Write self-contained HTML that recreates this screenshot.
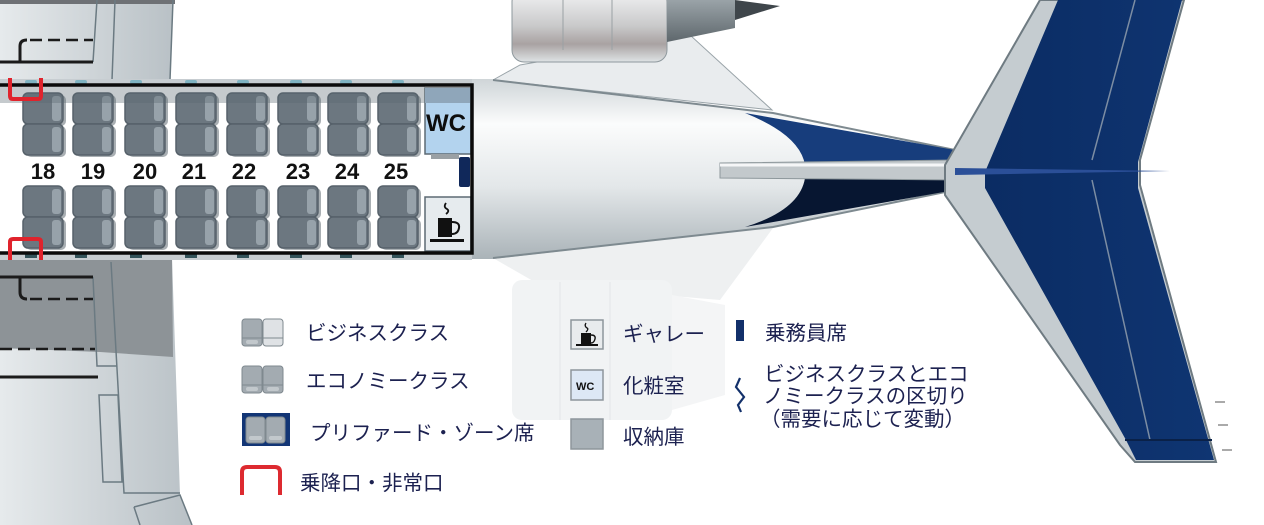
<!DOCTYPE html>
<html><head><meta charset="utf-8">
<style>
html,body{margin:0;padding:0;background:#fff;}
svg{display:block;}
text{font-family:"Liberation Sans","Noto Sans CJK JP",sans-serif;}
.lg{font-size:20.5px;fill:#1c2150;}
</style></head><body>
<svg width="1264" height="525" viewBox="0 0 1264 525" xmlns="http://www.w3.org/2000/svg">
<defs>
<linearGradient id="wing" x1="0" y1="0" x2="1" y2="0">
<stop offset="0" stop-color="#e6eaec"/><stop offset="1" stop-color="#b9c1c6"/></linearGradient>
<linearGradient id="fus" x1="0" y1="0" x2="0" y2="1">
<stop offset="0" stop-color="#cfd5d8"/><stop offset="0.25" stop-color="#fbfcfc"/><stop offset="0.6" stop-color="#e3e7e9"/><stop offset="1" stop-color="#aab3b8"/></linearGradient>
<linearGradient id="eng" x1="0" y1="0" x2="0" y2="1">
<stop offset="0" stop-color="#f3f4f5"/><stop offset="0.5" stop-color="#c9c9ca"/><stop offset="0.75" stop-color="#a9a2a2"/><stop offset="1" stop-color="#dfe3e5"/></linearGradient>
<linearGradient id="exh" x1="0" y1="0" x2="0" y2="1">
<stop offset="0" stop-color="#9aa3a8"/><stop offset="1" stop-color="#5e676c"/></linearGradient>
<linearGradient id="tail" x1="0" y1="0" x2="1" y2="0">
<stop offset="0" stop-color="#0b2c63"/><stop offset="1" stop-color="#0f3572"/></linearGradient>
<g id="seat">
<rect x="3" y="2" width="40" height="31" rx="5" fill="#a9afb3"/>
<rect x="0" y="0" width="40" height="31" rx="5" fill="#6c7780" stroke="#56616a" stroke-width="1.5"/>
<rect x="29" y="3" width="9" height="25" rx="3" fill="#97a2aa"/>
</g>
<g id="pair"><use href="#seat" y="0"/><use href="#seat" y="31"/></g>
</defs>

<!-- top wing -->
<path d="M0 0 H173 L170 80 H0 Z" fill="url(#wing)"/>
<rect x="0" y="0" width="175" height="4" fill="#6e7175"/>
<path d="M97 0 L93 62 M115 0 L112 80 M173 0 L170 80" stroke="#6b7a82" stroke-width="1.5" fill="none"/>
<path d="M0 62 H93" stroke="#1b1b1b" stroke-width="3"/>
<path d="M20 62 V46 Q20 40 27 40" stroke="#1b1b1b" stroke-width="3" fill="none"/>
<path d="M30 40 H93" stroke="#1b1b1b" stroke-width="2.5" stroke-dasharray="12 6"/>

<!-- bottom wing -->
<path d="M0 258 H172 L180 495 L192 525 H0 Z" fill="url(#wing)"/>
<path d="M0 258 H172 L173 357 L100 352 L0 348 Z" fill="#8d9397"/>
<path d="M93 277 L97 366 H117 M111 262 L124 493 H180 M99 395 H118 L122 482 H103 Z M134 507 L180 495 L192 525 M140 525 L134 507" stroke="#6b7a82" stroke-width="1.5" fill="none"/>
<path d="M0 277 H93" stroke="#1b1b1b" stroke-width="3"/>
<path d="M20 277 V292 Q20 299 27 299" stroke="#1b1b1b" stroke-width="3" fill="none"/>
<path d="M30 299 H93" stroke="#1b1b1b" stroke-width="2.5" stroke-dasharray="12 6"/>
<path d="M0 349 H95" stroke="#1b1b1b" stroke-width="2.5" stroke-dasharray="12 6"/>
<path d="M0 377 H98" stroke="#1b1b1b" stroke-width="3"/>

<!-- bottom engine (faded) -->
<path d="M493 258 L773 228 L720 300 L540 285 Z" fill="#eef0f1"/>
<rect x="512" y="280" width="160" height="140" rx="10" fill="#f1f3f4"/>
<path d="M672 295 L725 305 V395 L672 410 Z" fill="#f4f5f6"/>
<path d="M560 282 V420 M610 282 V420" stroke="#e2e5e7" stroke-width="1"/>

<!-- top pylon & engine -->
<path d="M493 80 L520 65 L690 35 L772 110 Z" fill="#e9ecee" stroke="#9aa4a9" stroke-width="1"/>
<rect x="512" y="-10" width="155" height="72" rx="12" fill="url(#eng)" stroke="#8e989d"/>
<path d="M563 0 V50 M612 0 V50" stroke="#9aa1a4" stroke-width="1"/>
<path d="M667 0 H735 V28 L667 42 Z" fill="url(#exh)"/>
<path d="M735 0 L780 6 L735 20 Z" fill="#3f464b"/>

<!-- fuselage cone -->
<path d="M440 79 H493 L773 113 L955 150 L955 190 L773 227 L493 259 H440 Z" fill="url(#fus)"/>
<path d="M493 80 L773 113 L955 150 M493 258 L773 227 L955 190" stroke="#7e8a90" stroke-width="2" fill="none"/>
<path d="M745 113 L955 150 L955 168 L805 165 Q800 135 745 113 Z" fill="#173d7c"/>
<path d="M745 227 L955 190 L955 175 L805 178 Q800 210 745 227 Z" fill="#071631"/>
<path d="M720 163 L955 160 L960 180 L720 178 Z" fill="#c3c9cc" stroke="#8e989c" stroke-width="1"/>
<path d="M720 165 H955" stroke="#f5f6f7" stroke-width="3"/>

<!-- tail -->
<path d="M945 165 L1040 0 H1184 L1140 160 L1140 185 L1216 462 H1135 L1120 445 L945 195 Z" fill="#c5ccd0" stroke="#6f7b82" stroke-width="2"/>
<path d="M985 172 L1058 0 H1182 L1138 162 L1138 188 L1214 460 H1136 L1126 440 L985 188 Z" fill="url(#tail)"/>
<path d="M1135 0 L1092 160 M1092 180 L1150 440" stroke="#7c8da3" stroke-width="1.5"/>
<path d="M1125 440 H1212" stroke="#0a2148" stroke-width="2"/>
<path d="M955 168 L1170 171 L955 175 Z" fill="#2b4f98"/>
<path d="M1215 402 H1225 M1218 425 H1228 M1222 450 H1232" stroke="#555" stroke-width="1"/>

<!-- cabin fuselage strip -->
<rect x="0" y="79" width="472" height="181" fill="#c7cdd1"/>
<rect x="0" y="86" width="472" height="167" fill="#fff"/>
<g fill="#7fb3c2">
<rect x="25" y="80" width="12" height="4" rx="2"/><rect x="75" y="80" width="12" height="4" rx="2"/><rect x="130" y="80" width="12" height="4" rx="2"/><rect x="185" y="80" width="12" height="4" rx="2"/><rect x="237" y="80" width="12" height="4" rx="2"/><rect x="290" y="80" width="12" height="4" rx="2"/><rect x="340" y="80" width="12" height="4" rx="2"/><rect x="392" y="80" width="12" height="4" rx="2"/>
</g>
<g fill="#33535a">
<rect x="25" y="254" width="12" height="4"/><rect x="75" y="254" width="12" height="4"/><rect x="130" y="254" width="12" height="4"/><rect x="185" y="254" width="12" height="4"/><rect x="237" y="254" width="12" height="4"/><rect x="290" y="254" width="12" height="4"/><rect x="340" y="254" width="12" height="4"/><rect x="392" y="254" width="12" height="4"/>
</g>

<!-- seats -->
<g>
<use href="#pair" x="23" y="93"/><use href="#pair" x="73" y="93"/><use href="#pair" x="125" y="93"/><use href="#pair" x="176" y="93"/><use href="#pair" x="227" y="93"/><use href="#pair" x="278" y="93"/><use href="#pair" x="328" y="93"/><use href="#pair" x="378" y="93"/>
<use href="#pair" x="23" y="186"/><use href="#pair" x="73" y="186"/><use href="#pair" x="125" y="186"/><use href="#pair" x="176" y="186"/><use href="#pair" x="227" y="186"/><use href="#pair" x="278" y="186"/><use href="#pair" x="328" y="186"/><use href="#pair" x="378" y="186"/>
</g>
<rect x="0" y="86" width="425" height="17" fill="#5a6670" opacity="0.35"/>
<g font-size="22" font-weight="bold" fill="#111" text-anchor="middle">
<text x="43" y="179">18</text><text x="93" y="179">19</text><text x="145" y="179">20</text><text x="194" y="179">21</text><text x="244" y="179">22</text><text x="298" y="179">23</text><text x="347" y="179">24</text><text x="396" y="179">25</text>
</g>

<!-- WC / galley / crew -->
<rect x="425" y="88" width="46" height="66" fill="#b3d3ee" stroke="#5d6a73" stroke-width="1.5"/>
<rect x="425" y="88" width="46" height="15" fill="#8fa6ba"/>
<text x="426" y="131" font-size="24" font-weight="bold" fill="#0d0d0d">WC</text>
<rect x="431" y="154" width="28" height="5" fill="#9aa0a4"/>
<rect x="459" y="157" width="11" height="30" rx="2" fill="#10285a"/>
<rect x="425" y="197" width="46" height="54" fill="#e6ebee" stroke="#5d6a73" stroke-width="1.5"/>
<path d="M446 203 q-3 4 1 6 q3 2 -1 5" stroke="#111" stroke-width="1.8" fill="none"/>
<rect x="438" y="218" width="14" height="19" fill="#111"/>
<path d="M452 222 q8 0 7 6 q-1 6 -7 6" stroke="#111" stroke-width="2" fill="none"/>
<rect x="430" y="239" width="34" height="3" fill="#111"/>

<rect x="-3" y="85" width="475" height="168" fill="none" stroke="#0b0b0b" stroke-width="3.5"/>

<path d="M10 78 V96 Q10 99 13 99 H38 Q41 99 41 96 V78" stroke="#e0232c" stroke-width="4" fill="none"/>
<path d="M10 260 V242 Q10 239 13 239 H38 Q41 239 41 242 V260" stroke="#e0232c" stroke-width="4" fill="none"/>

<!-- legend -->
<g>
<rect x="242" y="319" width="20" height="27" rx="3" fill="#a3abb1" stroke="#7f898f"/>
<rect x="263" y="319" width="20" height="27" rx="3" fill="#dfe2e5" stroke="#7f898f"/>
<path d="M242 338 H283" stroke="#7f898f"/>
<rect x="246" y="340" width="12" height="4" rx="2" fill="#c2c8cc"/>
<text class="lg" x="306" y="340">ビジネスクラス</text>

<rect x="242" y="366" width="20" height="27" rx="3" fill="#a3abb1" stroke="#7f898f"/>
<rect x="263" y="366" width="20" height="27" rx="3" fill="#a3abb1" stroke="#7f898f"/>
<path d="M242 385 H283" stroke="#7f898f"/>
<rect x="246" y="387" width="12" height="4" rx="2" fill="#c2c8cc"/>
<rect x="267" y="387" width="12" height="4" rx="2" fill="#c2c8cc"/>
<text class="lg" x="306" y="388">エコノミークラス</text>

<rect x="242" y="413" width="48" height="33" fill="#123575"/>
<rect x="246" y="417" width="19" height="26" rx="3" fill="#a3abb1" stroke="#7f898f"/>
<rect x="266" y="417" width="19" height="26" rx="3" fill="#a3abb1" stroke="#7f898f"/>
<rect x="249" y="436" width="13" height="4" rx="2" fill="#c2c8cc"/>
<rect x="269" y="436" width="13" height="4" rx="2" fill="#c2c8cc"/>
<text class="lg" x="310" y="440">プリファード・ゾーン席</text>

<path d="M242 495 V472 Q242 467 247 467 H275 Q280 467 280 472 V495" stroke="#dd2a30" stroke-width="4" fill="none"/>
<text class="lg" x="300" y="490">乗降口・非常口</text>

<rect x="571" y="320" width="32" height="29" fill="#e8ebed" stroke="#8e969b" stroke-width="1.5"/>
<path d="M586 323 q-2 3 1 5 q2 1 -1 4" stroke="#111" stroke-width="1.3" fill="none"/>
<rect x="581" y="333" width="10" height="11" fill="#111"/>
<path d="M591 335 q5 0 4 4 q-1 4 -4 4" stroke="#111" stroke-width="1.4" fill="none"/>
<rect x="576" y="344" width="22" height="2" fill="#111"/>
<text class="lg" x="623" y="341">ギャレー</text>

<rect x="571" y="370" width="32" height="30" fill="#dde8f5" stroke="#8e969b" stroke-width="1.5"/>
<text x="576" y="390" font-size="11" font-weight="bold" fill="#111">WC</text>
<text class="lg" x="623" y="393">化粧室</text>

<rect x="571" y="419" width="32" height="30" fill="#a8b1b7" stroke="#8e969b" stroke-width="1.5"/>
<text class="lg" x="623" y="444">収納庫</text>

<rect x="736" y="320" width="8" height="21" fill="#12306a"/>
<text class="lg" x="765" y="340">乗務員席</text>
<path d="M740 378 L736 387 L744 397 L738 405 L741 412" stroke="#12306a" stroke-width="2.2" fill="none"/>
<g font-size="20.5" fill="#1c2150">
<text x="764" y="381">ビジネスクラスとエコ</text>
<text x="763" y="403">ノミークラスの区切り</text>
<text x="760" y="426">（需要に応じて変動）</text>
</g>
</g>
</svg>
</body></html>
